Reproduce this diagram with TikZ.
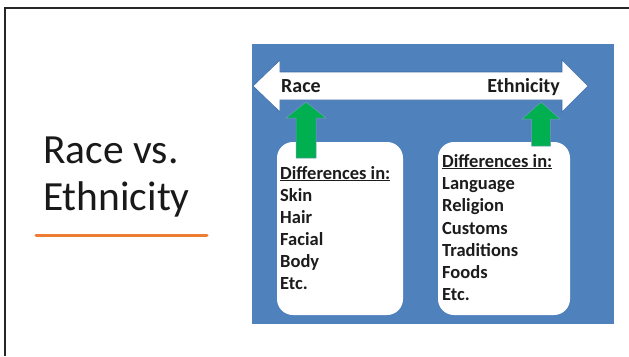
\documentclass[tikz,border=0pt]{standalone}
\usepackage{fontspec}
\setmainfont{Carlito}
\definecolor{slideblue}{HTML}{4F81BD}
\definecolor{edgeblue}{HTML}{3C6AA6}
\definecolor{arrowgreen}{HTML}{00B050}
\definecolor{accentorange}{HTML}{ED7D31}
\definecolor{textdark}{HTML}{1C1C1C}
\begin{document}
\begin{tikzpicture}[x=1pt,y=-1pt,
  framerule/.style={line width=2.2pt,draw=black!85},
  panel/.style={fill=slideblue,draw=none},
  whitearrow/.style={fill=white,draw=edgeblue,line width=0.6pt},
  greenarrow/.style={fill=arrowgreen,draw=edgeblue!70,line width=0.5pt},
  listbox/.style={draw=none,fill=white,rounded corners=16pt,minimum width=126pt,minimum height=173pt,inner sep=0pt},
  arrowlabel/.style={font=\fontsize{20}{24}\selectfont\bfseries,text=textdark,anchor=base west,inner sep=0pt},
  listline/.style={font=\fontsize{18.5}{22}\selectfont\bfseries,text=textdark,anchor=base west,inner sep=0pt},
  titletext/.style={font=\fontsize{41.5}{47}\selectfont,text=black!90,anchor=base west,inner sep=0pt}]
\useasboundingbox (0,0) rectangle (629,356);
\fill[white] (0,0) rectangle (629,356);
% slide frame
\coordinate (ftl) at (5,8);
\coordinate (ftr) at (629,8);
\coordinate (fbl) at (5,356);
\draw[framerule] (ftr) -- (ftl) -- (fbl);
% title
\node[titletext] (t1) at (43,163) {Race vs.};
\node[titletext] (t2) at (43,210) {Ethnicity};
\coordinate (ul) at (36,235);
\coordinate (ur) at (207,235);
\draw[accentorange,line width=3pt,line cap=round] (ul) -- (ur);
% picture panel
\fill[panel] (252,44) rectangle (614,324);
% double arrow
\draw[whitearrow] (253,86) -- (280,60) -- (280,72) -- (562,72) -- (562,60) -- (588,86)
  -- (562,112) -- (562,100) -- (280,100) -- (280,112) -- cycle;
\node[arrowlabel] (race) at (281,92) {Race};
\node[arrowlabel,anchor=base east] (eth) at (560,92) {Ethnicity};
% boxes
\node[listbox,minimum width=126pt] (lbox) at (340,228.5) {};
\node[listbox,minimum width=132pt] (rbox) at (504,228.5) {};
% green arrows
\draw[greenarrow] (296,158) -- (296,118) -- (286,118) -- (306,102) -- (326,118) -- (316,118) -- (316,158) -- cycle;
\draw[greenarrow] (531.5,146) -- (531.5,119) -- (522,119) -- (541,102) -- (560,119) -- (550.5,119) -- (550.5,146) -- cycle;
% left list
\node[listline] (l0) at (280,179) {\underline{Differences in:}};
\node[listline] (l1) at (280,201) {Skin};
\node[listline] (l2) at (280,223) {Hair};
\node[listline] (l3) at (280,245) {Facial};
\node[listline] (l4) at (280,267) {Body};
\node[listline] (l5) at (280,289) {Etc.};
% right list
\node[listline] (r0) at (442,167) {\underline{Differences in:}};
\node[listline] (r1) at (442,189) {Language};
\node[listline] (r2) at (442,211.5) {Religion};
\node[listline] (r3) at (442,234) {Customs};
\node[listline] (r4) at (442,256) {Traditions};
\node[listline] (r5) at (442,278) {Foods};
\node[listline] (r6) at (442,300) {Etc.};
\end{tikzpicture}
\end{document}
